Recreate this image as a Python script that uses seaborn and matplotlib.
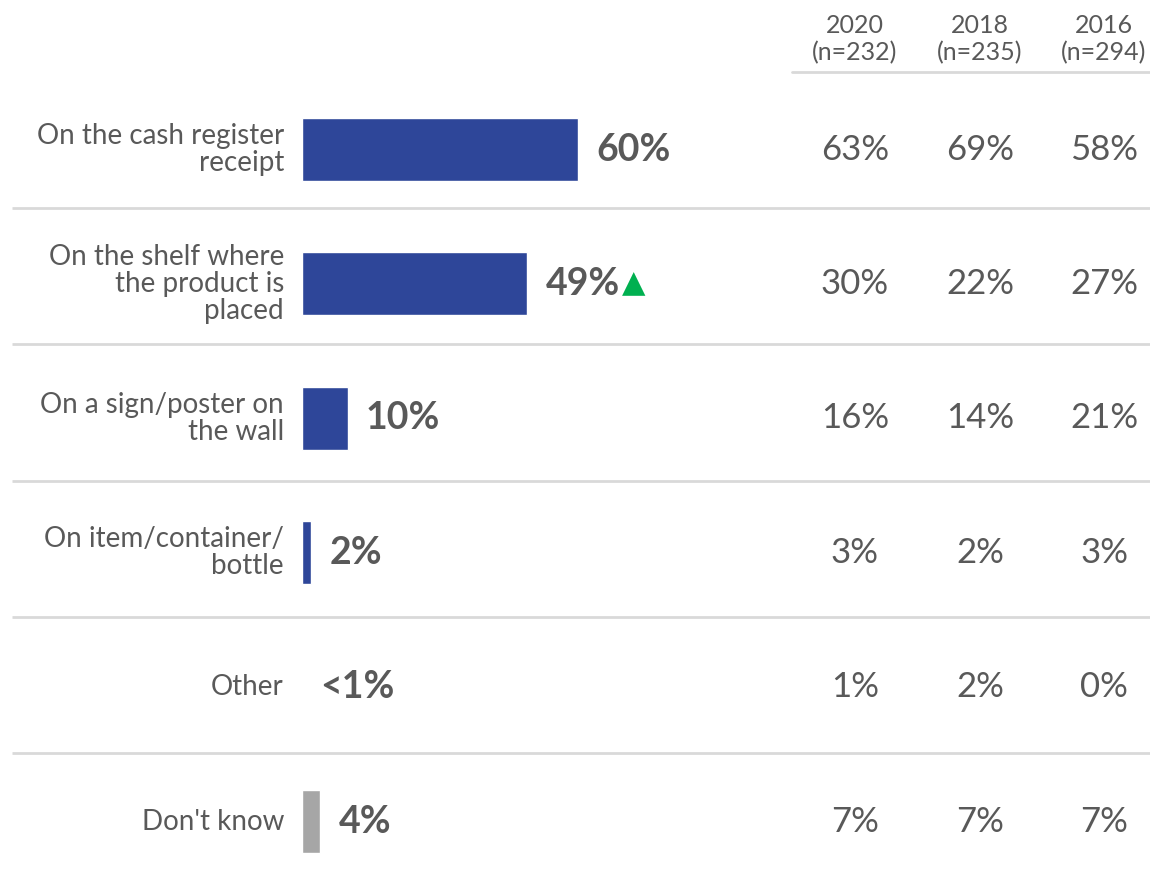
import matplotlib
matplotlib.use("Agg")
import matplotlib.pyplot as plt
import matplotlib.transforms as mtransforms
import seaborn as sns
import pandas as pd

# --- data -------------------------------------------------------------
categories = [
    "On the cash register\nreceipt",
    "On the shelf where\nthe product is\nplaced",
    "On a sign/poster on\nthe wall",
    "On item/container/\nbottle",
    "Other",
    "Don't know",
]
current = [60, 49, 10, 2, 0, 4]
current_labels = ["60%", "49%", "10%", "2%", "<1%", "4%"]
significant_up = [False, True, False, False, False, False]

years = ["2020", "2018", "2016"]
sample_sizes = ["(n=232)", "(n=235)", "(n=294)"]
prior_2020 = [63, 30, 16, 3, 1, 7]
prior_2018 = [69, 22, 14, 2, 2, 7]
prior_2016 = [58, 27, 21, 3, 0, 7]

# --- style -------------------------------------------------------------
BLUE = "#2E4699"
GREY_BAR = "#A6A6A6"
TEXT = "#595959"
RULE = "#D9D9D9"
GREEN = "#00B050"

sns.set_theme(style="white")
plt.rcParams["font.family"] = ["Lato", "DejaVu Sans"]

W, H = 1150, 885
fig = plt.figure(figsize=(W / 100, H / 100), dpi=100)
ax = fig.add_axes([0, 0, 1, 1])

# horizontal scale: bars start at x=302px, 4.6px per percentage point
x0_px, px_per_pct = 302, 4.6
ax.set_xlim(-x0_px / px_per_pct, (W - x0_px) / px_per_pct)
# vertical scale: first row centred at 149.5px, rows 134.4px apart
row_px, top_px = 134.4, 149.5
ylim = ((H - top_px) / row_px, -top_px / row_px)

df = pd.DataFrame({"category": categories, "value": current})
palette = {c: (GREY_BAR if c == "Don't know" else BLUE) for c in categories}
sns.barplot(data=df, x="value", y="category", hue="category", palette=palette,
            orient="h", width=0.47, legend=False, saturation=1, ax=ax)
ax.set_ylim(*ylim)
ax.axis("off")

figx = mtransforms.blended_transform_factory(fig.transFigure, ax.transData)

def fx(px):
    return px / W

# category labels, right-aligned left of the bars
for i, cat in enumerate(categories):
    ax.text(fx(284), i, cat, transform=figx, ha="right", va="center",
            fontsize=20, color=TEXT, linespacing=1.05)

# value labels next to the bars
label_gap = 18 / px_per_pct
value_texts = []
for i, (v, lab) in enumerate(zip(current, current_labels)):
    t = ax.text(v + label_gap, i, lab, ha="left", va="center",
                fontsize=27, fontweight="bold", color=TEXT)
    value_texts.append(t)

# significance marker after the label
fig.canvas.draw()
renderer = fig.canvas.get_renderer()
inv = ax.transData.inverted()
for i, flag in enumerate(significant_up):
    if flag:
        bb = value_texts[i].get_window_extent(renderer)
        xd, _ = inv.transform((bb.x1 + 2, 0))
        ax.text(xd, i, "\u25B2", ha="left", va="center", fontsize=22,
                color=GREEN, family="DejaVu Sans")

# trend columns
col_x = [855, 980, 1104]
for cx, series in zip(col_x, [prior_2020, prior_2018, prior_2016]):
    for i, v in enumerate(series):
        ax.text(fx(cx), i, f"{v}%", transform=figx, ha="center", va="center",
                fontsize=25, color=TEXT)

# column headers
for cx, yr, n in zip(col_x, years, sample_sizes):
    fig.text(fx(cx), 1 - 39 / H, f"{yr}\n{n}", ha="center", va="center",
             fontsize=18, color=TEXT, linespacing=1.2)
fig.add_artist(plt.Line2D([fx(792), 1], [1 - 72 / H] * 2, color=RULE, lw=2))

# row separators (slightly wider pitch than the rows)
sep_first, sep_pitch = (208 - top_px) / row_px, 136.25 / row_px
for i in range(len(categories) - 1):
    y = sep_first + i * sep_pitch
    ax.plot([fx(12), 1], [y, y], transform=figx, color=RULE, lw=2,
            solid_capstyle="butt")

fig.savefig("out.png", dpi=100)
